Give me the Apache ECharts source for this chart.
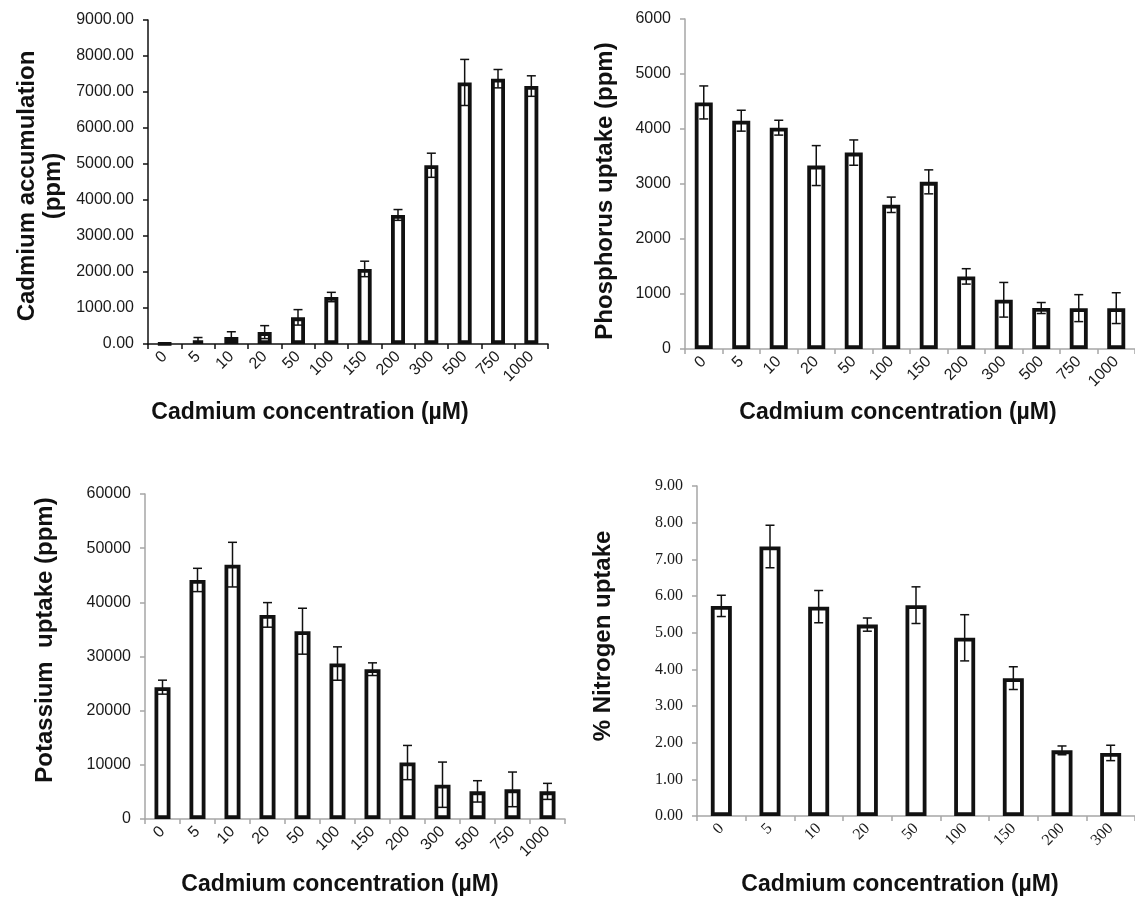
<!DOCTYPE html>
<html>
<head>
<meta charset="utf-8">
<script src="https://cdn.jsdelivr.net/npm/echarts@6/dist/echarts.min.js"></script>
<style>
html,body{margin:0;padding:0;background:#fff;}
#c{width:1135px;height:904px;}
</style>
</head>
<body>
<div id="c"></div>
<script>
// ---- data ----
const concFull = ['0','5','10','20','50','100','150','200','300','500','750','1000'];
const concN = ['0','5','10','20','50','100','150','200','300'];

const cdAccum = [10, 100, 195, 330, 740, 1305, 2085, 3585, 4965, 7265, 7370, 7165];
const cdAccumErr = [0, 80, 145, 180, 215, 130, 215, 150, 335, 640, 255, 285];

const pUptake = [4483, 4151, 4024, 3335, 3571, 2622, 3039, 1320, 895, 745, 743, 743];
const pUptakeErr = [300, 190, 135, 363, 230, 140, 218, 140, 315, 100, 245, 280];

const kUptake = [24340, 44130, 46960, 37680, 34670, 28700, 27660, 10420, 6330, 5100, 5470, 5100];
const kUptakeErr = [1290, 2150, 4120, 2270, 4240, 3080, 1170, 3160, 4180, 1970, 3200, 1480];

const nUptake = [5.73, 7.35, 5.71, 5.22, 5.75, 4.86, 3.76, 1.79, 1.72];
const nUptakeErr = [0.29, 0.58, 0.44, 0.18, 0.50, 0.63, 0.31, 0.12, 0.21];

const yTicks1 = {min: 0, max: 9000, interval: 1000};
const yTicks2 = {min: 0, max: 6000, interval: 1000};
const yTicks3 = {min: 0, max: 60000, interval: 10000};
const yTicks4 = {min: 0, max: 9, interval: 1};

// ---- chart ----
const SANS = "'Liberation Sans', Arial, sans-serif";
const SERIF = "'Liberation Serif', 'Times New Roman', serif";
const chart = echarts.init(document.getElementById('c'), null, {renderer: 'canvas'});

const grids = [
  {left: 148, top: 20, width: 400, height: 324},
  {left: 685, top: 19, width: 456, height: 330},
  {left: 145, top: 494, width: 420, height: 325},
  {left: 697, top: 486, width: 438, height: 330}
];

function xAxisCfg(idx, cats, axisColor, font) {
  return {
    type: 'category', gridIndex: idx, data: cats,
    axisLine: {lineStyle: {color: axisColor, width: 1.5}},
    axisTick: {show: true, length: 5, lineStyle: {color: axisColor, width: 1.5}},
    axisLabel: {interval: 0, rotate: 45, margin: 10, fontSize: 16, fontFamily: font, color: '#1a1a1a'}
  };
}
function yAxisCfg(idx, t, axisColor, font, dec) {
  return {
    type: 'value', gridIndex: idx, min: t.min, max: t.max, interval: t.interval,
    splitLine: {show: false},
    axisLine: {show: true, lineStyle: {color: axisColor, width: 1.5}},
    axisTick: {show: true, length: 5, lineStyle: {color: axisColor, width: 1.5}},
    axisLabel: {margin: 14, fontSize: 16, fontFamily: font, color: '#1a1a1a',
      formatter: v => dec ? v.toFixed(2) : String(v)}
  };
}
function barSeries(idx, vals, bw) {
  return {
    type: 'bar', xAxisIndex: idx, yAxisIndex: idx, data: vals, barWidth: bw,
    itemStyle: {color: '#fff', borderColor: '#111', borderWidth: 3.8},
    z: 2, silent: true
  };
}
function errSeries(idx, vals, errs) {
  return {
    type: 'custom', xAxisIndex: idx, yAxisIndex: idx, z: 5, silent: true,
    data: vals.map((v, i) => [i, v, errs[i]]),
    renderItem: function (params, api) {
      const x = api.value(0), v = api.value(1), e = api.value(2);
      if (!e) return;
      const top = api.coord([x, v + e]);
      const bot = api.coord([x, v - e]);
      const h = 4.5;
      const st = {stroke: '#111', lineWidth: 1.5};
      return {type: 'group', children: [
        {type: 'line', shape: {x1: top[0], y1: top[1], x2: bot[0], y2: bot[1]}, style: st},
        {type: 'line', shape: {x1: top[0] - h, y1: top[1], x2: top[0] + h, y2: top[1]}, style: st},
        {type: 'line', shape: {x1: bot[0] - h, y1: bot[1], x2: bot[0] + h, y2: bot[1]}, style: st}
      ]};
    }
  };
}
function ttl(text, x, y, rot, size) {
  return {
    type: 'text', x: x, y: y, rotation: rot ? Math.PI / 2 : 0, silent: true,
    style: {text: text, textAlign: 'center', textVerticalAlign: 'middle',
      font: 'bold ' + size + 'px ' + SANS, fill: '#111', lineHeight: 26}
  };
}

const GRAY = '#a6a6a6';
chart.setOption({
  backgroundColor: '#fff',
  animation: false,
  grid: grids,
  xAxis: [
    xAxisCfg(0, concFull, '#111', SANS),
    xAxisCfg(1, concFull, GRAY, SANS),
    xAxisCfg(2, concFull, GRAY, SANS),
    xAxisCfg(3, concN, GRAY, SERIF)
  ],
  yAxis: [
    yAxisCfg(0, yTicks1, '#111', SANS, true),
    yAxisCfg(1, yTicks2, GRAY, SANS, false),
    yAxisCfg(2, yTicks3, GRAY, SANS, false),
    yAxisCfg(3, yTicks4, GRAY, SERIF, true)
  ],
  series: [
    barSeries(0, cdAccum, 14), errSeries(0, cdAccum, cdAccumErr),
    barSeries(1, pUptake, 18), errSeries(1, pUptake, pUptakeErr),
    barSeries(2, kUptake, 16), errSeries(2, kUptake, kUptakeErr),
    barSeries(3, nUptake, 21), errSeries(3, nUptake, nUptakeErr)
  ],
  graphic: [
    ttl('Cadmium accumulation\n(ppm)', 40, 186, true, 24),
    ttl('Phosphorus uptake (ppm)', 605, 191, true, 24),
    ttl('Potassium  uptake (ppm)', 45, 640, true, 24),
    ttl('% Nitrogen uptake', 603, 636, true, 24),
    ttl('Cadmium concentration (µM)', 310, 413, false, 23),
    ttl('Cadmium concentration (µM)', 898, 413, false, 23),
    ttl('Cadmium concentration (µM)', 340, 885, false, 23),
    ttl('Cadmium concentration (µM)', 900, 885, false, 23)
  ]
});
</script>
</body>
</html>
